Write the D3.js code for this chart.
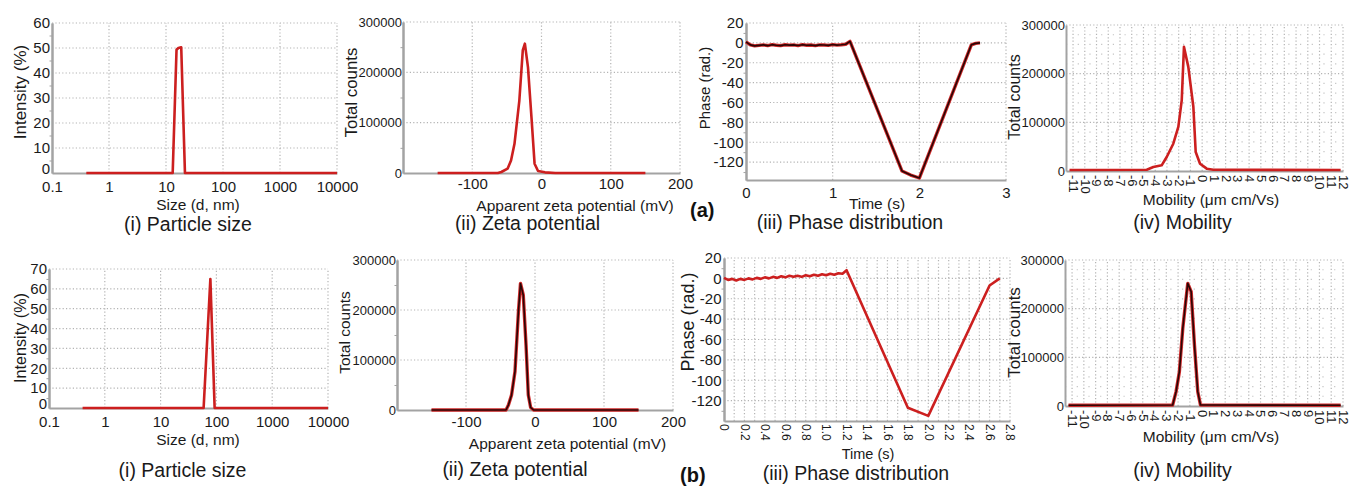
<!DOCTYPE html>
<html>
<head>
<meta charset="utf-8">
<script src="https://cdn.jsdelivr.net/npm/d3@7"></script>
<style>
  body { margin: 0; background: #fff; }
  svg { display: block; font-family: "Liberation Sans", Arial, sans-serif; }
  .grid { stroke: #b3b3b3; stroke-width: 1.2; stroke-dasharray: 1.2 2.2; }
  .minor { stroke: #c4c4c4; stroke-width: 1.2; stroke-dasharray: 1.2 10.5; }
  .axis .domain { stroke: #a3a3a3; stroke-width: 2; }
  .axis .tick line { stroke: #a3a3a3; }
  .axis text { fill: #1a1a1a; font-family: "Liberation Sans", Arial, sans-serif; }
</style>
</head>
<body>
<script>
// ---- data ----
var sizeTicks = [0.1, 1, 10, 100, 1000, 10000];
var sizeA_nm  = [0.4, 13.1, 15.3, 16.5, 18.5, 21.5, 10000];
var sizeA_int = [0, 0, 49.3, 50, 50.3, 0, 0];
var sizeB_nm  = [0.4, 59, 78, 93, 10000];
var sizeB_int = [0, 0, 65, 0, 0];

var zetaTicks = [-100, 0, 100, 200];
var zetaA_mV  = [-150, -63, -58, -49, -44, -39, -32, -27, -24, -19.5, -14.5, -10, -5, 5, 20, 150];
var zetaA_cnt = [0, 0, 2000, 8600, 25000, 58000, 144000, 244000, 257000, 210000, 111000, 18500, 4000, 1300, 0, 0];
var zetaB_mV  = [-150, -42, -38.5, -34, -29, -24, -21, -17, -13, -9.7, -6.3, -2, 150];
var zetaB_cnt = [0, 0, 10000, 30000, 77000, 197000, 253000, 230000, 130000, 30000, 5000, 0, 0];

var countTicks = [0, 100000, 200000, 300000];

var phaseTicks = [-120, -100, -80, -60, -40, -20, 0, 20];
var timeTicksA = [0, 1, 2, 3];
var phaseA_t   = [0, 0.05, 0.1, 0.15, 0.2, 0.25, 0.3, 0.35, 0.4, 0.45, 0.5, 0.55, 0.6, 0.65, 0.7, 0.75,
                  0.8, 0.85, 0.9, 0.95, 1.0, 1.05, 1.1, 1.15, 1.2, 1.8, 1.9, 2.0, 2.6, 2.65, 2.7];
var phaseA_rad = [1, -2, -3, -2.5, -2, -2.8, -1.8, -2.4, -2.8, -1.9, -2.3, -2, -2.7, -1.8, -2.4, -2.1,
                  -2.8, -2, -2.2, -2.5, -1.7, -2.3, -1.9, -1.4, 1.5, -129, -133, -136, -2, -0.5, 0];
var timeTicksB = [0, 0.2, 0.4, 0.6, 0.8, 1.0, 1.2, 1.4, 1.6, 1.8, 2.0, 2.2, 2.4, 2.6, 2.8];
var timeGridB  = [0.1, 0.2, 0.3, 0.4, 0.5, 0.6, 0.7, 0.8, 0.9, 1.0, 1.1, 1.2, 1.3, 1.4, 1.5, 1.6, 1.7, 1.8,
                  1.9, 2.0, 2.1, 2.2, 2.3, 2.4, 2.5, 2.6, 2.7, 2.8];
var phaseB_t   = [0, 0.04, 0.08, 0.12, 0.16, 0.2, 0.24, 0.28, 0.32, 0.36, 0.4, 0.44, 0.48, 0.52, 0.56, 0.6,
                  0.64, 0.68, 0.72, 0.76, 0.8, 0.84, 0.88, 0.92, 0.96, 1.0, 1.04, 1.08, 1.12, 1.16,
                  1.2, 1.8, 2.0, 2.6, 2.7];
var phaseB_rad = [0.5, -1.5, -0.5, -2, -0.5, -1.5, 0, -1, 0.5, -0.5, 1, 0, 1.5, 0.5, 2, 1,
                  2.5, 1.5, 2.5, 1.5, 3, 2, 3.5, 2.5, 4, 3, 4.5, 3.5, 5, 4.5,
                  8, -127, -135, -7, 0];

var mobTicks = [-11, -10, -9, -8, -7, -6, -5, -4, -3, -2, -1, 0, 1, 2, 3, 4, 5, 6, 7, 8, 9, 10, 11, 12];
var countMinor = [20000, 40000, 60000, 80000, 120000, 140000, 160000, 180000, 220000, 240000, 260000, 280000];
var mobA_mu  = [-11.3, -4.72, -4.16, -3.45, -3.02, -2.46, -2.03, -1.74, -1.55, -1.18, -0.75, -0.55, -0.18, 0.39, 0.95, 11.8];
var mobA_cnt = [2000, 2700, 8200, 11700, 28800, 56000, 90500, 145000, 255000, 214000, 132000, 39000, 15000, 4800, 2700, 2000];
var mobB_mu  = [-11.3, -2.46, -2.17, -1.89, -1.6, -1.18, -0.89, -0.61, -0.33, -0.1, 11.8];
var mobB_cnt = [1500, 2000, 29500, 70500, 160000, 252000, 235000, 125000, 29500, 2000, 1500];

var svg = d3.select("body").append("svg")
  .attr("width", 1352)
  .attr("height", 489);

svg.append("rect").attr("width", 1352).attr("height", 489).attr("fill", "#fff");

function drawPanel(p) {
  var g = svg.append("g");
  var x = p.x, y = p.y;
  var xr = x.range(), yr = y.range();

  if (p.yMinor) {
    g.selectAll(null).data(p.yMinor).join("line")
      .attr("class", "minor")
      .attr("x1", xr[0]).attr("x2", xr[1])
      .attr("y1", d => y(d)).attr("y2", d => y(d));
  }
  g.selectAll(null).data(p.xGrid).join("line")
    .attr("class", "grid")
    .attr("x1", d => x(d)).attr("x2", d => x(d))
    .attr("y1", yr[0]).attr("y2", yr[1]);
  g.selectAll(null).data(p.yGrid).join("line")
    .attr("class", "grid")
    .attr("x1", xr[0]).attr("x2", xr[1])
    .attr("y1", d => y(d)).attr("y2", d => y(d));

  // y axis
  if (p.yMinorTicks) {
    g.append("g").attr("class", "axis")
      .attr("transform", `translate(${xr[0]},0)`)
      .call(d3.axisLeft(y).tickValues(p.yMinorTicks).tickSize(2.5).tickSizeOuter(0).tickFormat(""));
  }
  var ya = g.append("g").attr("class", "axis")
    .attr("transform", `translate(${xr[0]},0)`)
    .call(d3.axisLeft(y).tickValues(p.yTicks).tickSize(0).tickSizeOuter(0).tickPadding(p.yPad || 2)
      .tickFormat(d => String(d)));
  ya.selectAll("text").attr("font-size", p.yFont);
  // lift the bottom "0" slightly so it clears the first x label
  if (p.liftZero) ya.selectAll("text").filter(d => d === 0).attr("dy", "0.05em");

  // x axis
  var xa = g.append("g").attr("class", "axis")
    .attr("transform", `translate(0,${yr[0]})`)
    .call(d3.axisBottom(x).tickValues(p.xTicks).tickSize(0).tickSizeOuter(0).tickPadding(p.xPad || 6)
      .tickFormat(p.xFmt || (d => String(d))));
  xa.selectAll("text").attr("font-size", p.xFont);
  if (p.rotate) {
    xa.selectAll("text")
      .attr("transform", "rotate(90)")
      .attr("y", 0).attr("x", p.xPad || 4)
      .attr("dy", "0.35em")
      .style("text-anchor", "start");
  }

  // series
  var line = d3.line().x(d => x(d[0])).y(d => y(d[1]));
  var pts = d3.zip(p.xs, p.ys);
  if (p.dark) {
    g.append("path").datum(pts).attr("d", line)
      .attr("fill", "none").attr("stroke", "#d02a2a").attr("stroke-width", 3.4)
      .attr("stroke-linejoin", "round");
    g.append("path").datum(pts).attr("d", line)
      .attr("fill", "none").attr("stroke", "#2a0606").attr("stroke-width", 1.6)
      .attr("stroke-linejoin", "round");
  } else {
    g.append("path").datum(pts).attr("d", line)
      .attr("fill", "none").attr("stroke", "#cc1f1f").attr("stroke-width", 2.6)
      .attr("stroke-linejoin", "round");
  }

  // titles
  svg.append("text")
    .attr("x", p.xTitle[1]).attr("y", p.xTitle[2])
    .attr("text-anchor", "middle").attr("font-size", p.xTitle[3] || 15.5).attr("fill", "#1a1a1a")
    .text(p.xTitle[0]);
  svg.append("text")
    .attr("transform", `translate(${p.yTitle[1]},${p.yTitle[2]}) rotate(-90)`)
    .attr("text-anchor", "middle").attr("font-size", p.yTitle[3]).attr("fill", "#1a1a1a")
    .attr("dy", "0.35em")
    .text(p.yTitle[0]);
  svg.append("text")
    .attr("x", p.caption[1]).attr("y", p.caption[2])
    .attr("text-anchor", "middle").attr("font-size", 19.5).attr("fill", "#1a1a1a")
    .text(p.caption[0]);
}

var five = [5, 15, 25, 35, 45, 55, 65];
var halfCounts = [50000, 150000, 250000];

// ---------- row (a) ----------
drawPanel({
  x: d3.scaleLog().domain([0.1, 10000]).range([52, 337]),
  y: d3.scaleLinear().domain([0, 60]).range([173, 23]),
  xTicks: sizeTicks, xGrid: sizeTicks.slice(1), xFont: 15, xPad: 8,
  yTicks: [0, 10, 20, 30, 40, 50, 60], yGrid: [10, 20, 30, 40, 50, 60], yFont: 15, liftZero: true,
  yMinorTicks: five.slice(0, 6),
  xs: sizeA_nm, ys: sizeA_int,
  xTitle: ["Size (d, nm)", 198, 209.5], yTitle: ["Intensity (%)", 20, 92, 17],
  caption: ["(i) Particle size", 188, 231]
});

drawPanel({
  x: d3.scaleLinear().domain([-200, 200]).range([403, 680]),
  y: d3.scaleLinear().domain([0, 300000]).range([173, 22]),
  xTicks: zetaTicks, xGrid: zetaTicks, xFont: 15, xPad: 5,
  yTicks: countTicks, yGrid: countTicks.slice(1), yFont: 13, yPad: 1,
  yMinorTicks: halfCounts,
  xs: zetaA_mV, ys: zetaA_cnt,
  xTitle: ["Apparent zeta potential (mV)", 575, 210.5], yTitle: ["Total counts", 351, 92.5, 16.8],
  caption: ["(ii) Zeta potential", 527.5, 230]
});

drawPanel({
  x: d3.scaleLinear().domain([0, 3]).range([746, 1006]),
  y: d3.scaleLinear().domain([-138, 20]).range([180, 23]),
  xTicks: timeTicksA, xGrid: [1, 2, 3], xFont: 15, xPad: 7,
  yTicks: phaseTicks, yGrid: phaseTicks, yFont: 15, yPad: 2.5,
  yMinorTicks: [-130, -110, -90, -70, -50, -30, -10, 10],
  xs: phaseA_t, ys: phaseA_rad, dark: true,
  xTitle: ["Time (s)", 877, 209], yTitle: ["Phase (rad.)", 704.5, 88, 15],
  caption: ["(iii) Phase distribution", 850, 229]
});

drawPanel({
  x: d3.scaleLinear().domain([-11.6, 12]).range([1066, 1343]),
  y: d3.scaleLinear().domain([0, 300000]).range([171, 25]),
  xTicks: mobTicks, xGrid: mobTicks, xFont: 13, xPad: 4, rotate: true,
  yTicks: countTicks, yGrid: countTicks.slice(1), yFont: 13, yPad: 1,
  yMinor: countMinor,
  xs: mobA_mu, ys: mobA_cnt,
  xTitle: ["Mobility (μm cm/Vs)", 1211, 205], yTitle: ["Total counts", 1014, 97, 16],
  caption: ["(iv) Mobility", 1182.5, 229]
});

// ---------- row (b) ----------
drawPanel({
  x: d3.scaleLog().domain([0.1, 10000]).range([49, 328]),
  y: d3.scaleLinear().domain([0, 70]).range([408, 269]),
  xTicks: sizeTicks, xGrid: sizeTicks.slice(1), xFont: 15, xPad: 8,
  yTicks: [0, 10, 20, 30, 40, 50, 60, 70], yGrid: [10, 20, 30, 40, 50, 60, 70], yFont: 15, liftZero: true,
  yMinorTicks: five,
  xs: sizeB_nm, ys: sizeB_int,
  xTitle: ["Size (d, nm)", 198, 445], yTitle: ["Intensity (%)", 20, 338, 16.2],
  caption: ["(i) Particle size", 182.5, 477]
});

drawPanel({
  x: d3.scaleLinear().domain([-200, 200]).range([397, 673]),
  y: d3.scaleLinear().domain([0, 300000]).range([410, 260]),
  xTicks: zetaTicks, xGrid: zetaTicks, xFont: 15, xPad: 6,
  yTicks: countTicks, yGrid: countTicks.slice(1), yFont: 13, yPad: 1,
  yMinorTicks: halfCounts,
  xs: zetaB_mV, ys: zetaB_cnt, dark: true,
  xTitle: ["Apparent zeta potential (mV)", 567.5, 449], yTitle: ["Total counts", 345, 332.5, 15.5],
  caption: ["(ii) Zeta potential", 515, 476]
});

drawPanel({
  x: d3.scaleLinear().domain([0, 2.8]).range([724, 1010]),
  y: d3.scaleLinear().domain([-140, 20]).range([421, 258]),
  xTicks: timeTicksB, xGrid: timeGridB, xFont: 12, xPad: 3, rotate: true,
  xFmt: d => d === 0 ? "0" : d.toFixed(1),
  yTicks: phaseTicks, yGrid: phaseTicks, yFont: 15, yPad: 2.5,
  yMinorTicks: [-130, -110, -90, -70, -50, -30, -10, 10],
  xs: phaseB_t, ys: phaseB_rad,
  xTitle: ["Time (s)", 868, 459, 14.5], yTitle: ["Phase (rad.)", 688, 322, 18],
  caption: ["(iii) Phase distribution", 856, 480]
});

drawPanel({
  x: d3.scaleLinear().domain([-11.6, 12]).range([1065, 1343]),
  y: d3.scaleLinear().domain([0, 300000]).range([406, 260]),
  xTicks: mobTicks, xGrid: mobTicks, xFont: 13, xPad: 4, rotate: true,
  yTicks: countTicks, yGrid: countTicks.slice(1), yFont: 13, yPad: 1,
  yMinor: countMinor,
  xs: mobB_mu, ys: mobB_cnt, dark: true,
  xTitle: ["Mobility (μm cm/Vs)", 1211, 442], yTitle: ["Total counts", 1014, 332.5, 17],
  caption: ["(iv) Mobility", 1182.5, 477]
});

// row markers
svg.append("text").attr("x", 690).attr("y", 216.5)
  .attr("font-size", 20).attr("font-weight", "bold").attr("fill", "#111").text("(a)");
svg.append("text").attr("x", 680).attr("y", 482)
  .attr("font-size", 20).attr("font-weight", "bold").attr("fill", "#111").text("(b)");
</script>
</body>
</html>
